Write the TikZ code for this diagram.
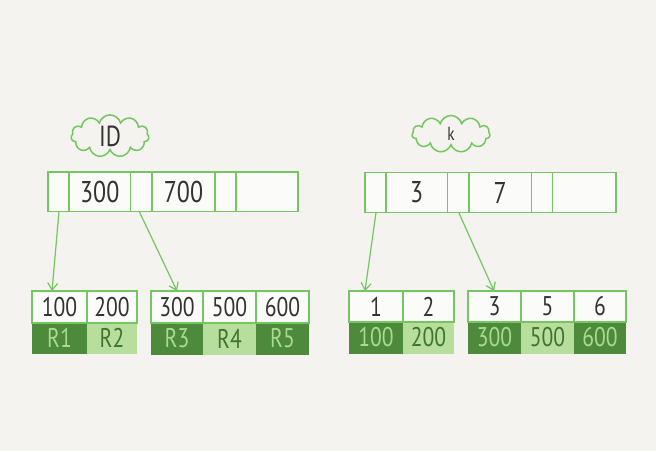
\documentclass[tikz,border=0pt]{standalone}
\usepackage{fontspec}
\setmainfont{PT Sans}
\newfontfamily\narrowf[FakeStretch=0.8]{PT Sans}
\usetikzlibrary{shapes.symbols,arrows.meta}
\definecolor{bg}{HTML}{F4F3EF}
\definecolor{cellbg}{HTML}{FBFBF9}
\definecolor{gline}{HTML}{74C660}
\definecolor{dkfill}{HTML}{4E8A3C}
\definecolor{ltfill}{HTML}{B8DE9E}
\definecolor{dktext}{HTML}{3E7530}
\definecolor{lttext}{HTML}{A9DA8E}
\definecolor{ink}{HTML}{333333}
\begin{document}
\begin{tikzpicture}[x=1pt,y=-1pt,
  cell/.style={draw=gline,line width=1.3pt,fill=cellbg,inner sep=0pt,outer sep=0pt,anchor=north west,font=\narrowf\fontsize{27}{27}\selectfont,text=ink},
  rootcell/.style={cell,font=\narrowf\fontsize{30}{30}\selectfont},
  dkval/.style={fill=dkfill,draw=none,inner sep=0pt,outer sep=0pt,anchor=north west,font=\narrowf\fontsize{27}{27}\selectfont,text=lttext},
  ltval/.style={fill=ltfill,draw=none,inner sep=0pt,outer sep=0pt,anchor=north west,font=\narrowf\fontsize{27}{27}\selectfont,text=dktext},
  cloudlbl/.style={cloud,cloud puffs=11,aspect=2.2,draw=gline,line width=1.5pt,fill=bg,inner sep=0pt,minimum width=78pt,minimum height=37pt,text=ink},
  arr/.style={draw=gline,line width=1.2pt,-{Straight Barb[length=7pt,width=10pt]}}]
\fill[bg] (0,0) rectangle (656,451);
\useasboundingbox (0,0) rectangle (656,451);
% clouds
\node[cloudlbl,font=\narrowf\fontsize{29}{29}\selectfont] (cid) at (110,136) {ID};
\node[cloudlbl,font=\narrowf\fontsize{19}{19}\selectfont] (ck) at (451,134) {k};
% left root
\node[rootcell,minimum width=21pt,minimum height=39.5pt] (lp1) at (48,172) {};
\node[rootcell,minimum width=61.5pt,minimum height=39.5pt] (lk1) at (69,172) {300};
\node[rootcell,minimum width=21.5pt,minimum height=39.5pt] (lp2) at (130.5,172) {};
\node[rootcell,minimum width=63pt,minimum height=39.5pt] (lk2) at (152,172) {700};
\node[rootcell,minimum width=21pt,minimum height=39.5pt] (lp3) at (215,172) {};
\node[rootcell,minimum width=62pt,minimum height=39.5pt] (lk3) at (236,172) {};
% right root
\node[rootcell,minimum width=21pt,minimum height=40pt] (rp1) at (365,172.5) {};
\node[rootcell,minimum width=61.5pt,minimum height=40pt] (rk1) at (386,172.5) {3};
\node[rootcell,minimum width=21.5pt,minimum height=40pt] (rp2) at (447.5,172.5) {};
\node[rootcell,minimum width=62.5pt,minimum height=40pt] (rk2) at (469,172.5) {7};
\node[rootcell,minimum width=21pt,minimum height=40pt] (rp3) at (531.5,172.5) {};
\node[rootcell,minimum width=63.5pt,minimum height=40pt] (rk3) at (552.5,172.5) {};
% left leaf 1
\node[dkval,minimum width=55pt,minimum height=32pt] (v1) at (32,322) {R1};
\node[ltval,minimum width=50pt,minimum height=32pt] (v2) at (87,322) {R2};
\node[cell,minimum width=55pt,minimum height=32pt] (a1) at (32,291) {100};
\node[cell,minimum width=50pt,minimum height=32pt] (a2) at (87,291) {200};
% left leaf 2
\node[dkval,minimum width=52pt,minimum height=33pt] (v3) at (151,322) {R3};
\node[ltval,minimum width=53pt,minimum height=33pt] (v4) at (203,322) {R4};
\node[dkval,minimum width=53pt,minimum height=33pt] (v5) at (256,322) {R5};
\node[cell,minimum width=52pt,minimum height=32pt] (a3) at (151,291) {300};
\node[cell,minimum width=53pt,minimum height=32pt] (a4) at (203,291) {500};
\node[cell,minimum width=53pt,minimum height=32pt] (a5) at (256,291) {600};
% right leaf 1
\node[dkval,minimum width=54pt,minimum height=33pt] (w1) at (349,321) {100};
\node[ltval,minimum width=51pt,minimum height=33pt] (w2) at (403,321) {200};
\node[cell,minimum width=54pt,minimum height=31pt] (b1) at (349,291) {1};
\node[cell,minimum width=51pt,minimum height=31pt] (b2) at (403,291) {2};
% right leaf 2
\node[dkval,minimum width=53pt,minimum height=33pt] (w3) at (468,321) {300};
\node[ltval,minimum width=53pt,minimum height=33pt] (w4) at (521,321) {500};
\node[dkval,minimum width=52pt,minimum height=33pt] (w5) at (574,321) {600};
\node[cell,minimum width=53pt,minimum height=31pt] (b3) at (468,291) {3};
\node[cell,minimum width=53pt,minimum height=31pt] (b4) at (521,291) {5};
\node[cell,minimum width=52pt,minimum height=31pt] (b5) at (574,291) {6};
% arrow targets
\coordinate (t1) at (52,291);
\coordinate (t2) at (177,291);
\coordinate (t3) at (365,291);
\coordinate (t4) at (494,291);
\draw[arr] ([xshift=0.5pt]lp1.south) -- (t1);
\draw[arr] ([xshift=-2pt]lp2.south) -- (t2);
\draw[arr] ([xshift=0.5pt]rp1.south) -- (t3);
\draw[arr] ([xshift=0.5pt]rp2.south) -- (t4);
\end{tikzpicture}
\end{document}
